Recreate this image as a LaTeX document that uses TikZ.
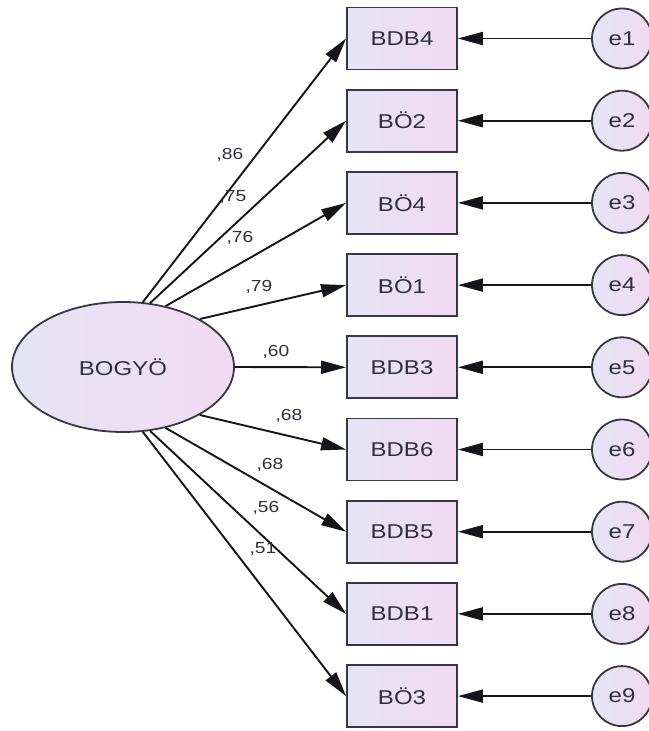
\documentclass[tikz,border=0pt]{standalone}
\usepackage{fontspec}
\newfontfamily\amosfont{Liberation Sans}[FakeStretch=1.2]
\usetikzlibrary{arrows.meta,shapes.geometric,positioning}

\definecolor{amosline}{RGB}{22,22,26}
\definecolor{amosedge}{RGB}{55,55,65}
\definecolor{amostext}{RGB}{48,48,60}
\definecolor{fillL}{RGB}{228,229,244}
\definecolor{fillR}{RGB}{242,218,242}

\tikzset{
  var/.style={draw=amosedge, line width=1.8pt, left color=fillL, right color=fillR,
    text=amostext, font=\amosfont\fontsize{20}{23}\selectfont},
  obs/.style={var, rectangle, minimum width=110pt, minimum height=62pt},
  lat/.style={var, ellipse, minimum width=222pt, minimum height=130pt, inner sep=0pt},
  err/.style={var, circle, minimum size=60pt, inner sep=0pt},
  coef/.style={text=amostext, font=\amosfont\fontsize{16}{18}\selectfont},
  regr/.style={draw=amosline, line width=1.9pt, -{Triangle[length=25pt,width=13pt]}}
}

\begin{document}
\begin{tikzpicture}[x=1pt,y=-1pt]
\useasboundingbox (0,0) rectangle (648,731);

\node[lat] (bogyo) at (123,367) {BOGYÖ};

\foreach \i/\name/\lab/\lx/\ly/\ang in {1/BDB4/{,86}/230/155/73, 2/BÖ2/{,75}/233/197/67,
    3/BÖ4/{,76}/240/238/55, 4/BÖ1/{,79}/259/287/32, 5/BDB3/{,60}/276/352/0,
    6/BDB6/{,68}/289/416/-32, 7/BDB5/{,68}/270/465/-55, 8/BDB1/{,56}/266/508/-67,
    9/BÖ3/{,51}/263/549/-73}{
  \pgfmathsetmacro\yy{38.5+(\i-1)*82.2}
  \node[obs] (b\i) at (402,\yy) {\name};
  \node[err] (e\i) at (622,\yy) {e\i};
  \node[coef] (c\i) at (\lx,\ly) {\lab};
  \draw[regr] (bogyo.\ang) -- (b\i.west);
  \draw[regr] (e\i) -- (b\i.east);
}

\end{tikzpicture}
\end{document}
